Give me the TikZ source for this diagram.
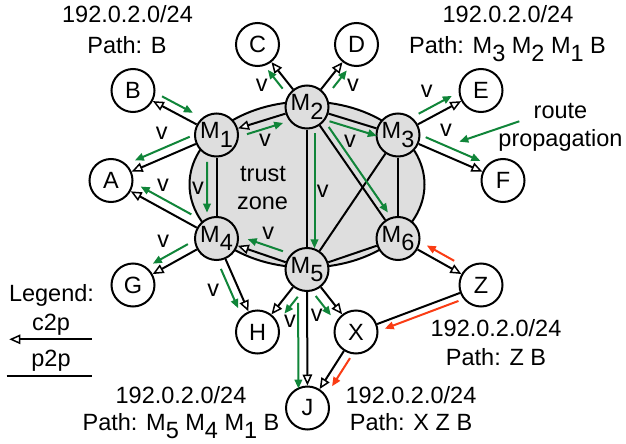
\documentclass[tikz,border=0pt]{standalone}
\usepackage{fontspec}
\setmainfont{Liberation Sans}
\usetikzlibrary{arrows.meta,calc}
\definecolor{propgreen}{RGB}{16,133,57}
\definecolor{propred}{RGB}{250,60,20}
\definecolor{zonegray}{RGB}{222,222,222}
\newcommand{\Msub}[1]{M\raisebox{-8.5pt}{#1}}
% style, from, to, start fraction, end fraction, perpendicular offset (pt, + = left of direction)
\newcommand{\propedge}[6]{\draw[#1] ($(#2)!#4!(#3)!#6pt!90:(#3)$) -- ($(#2)!#5!(#3)!#6pt!90:(#3)$);}
\tikzset{
  peer/.style={circle, draw, line width=2pt, minimum size=43pt, inner sep=0pt, fill=white},
  trustnode/.style={peer, fill=zonegray},
  c2p/.style={line width=2pt, -{Triangle[length=11pt,width=9.5pt,fill=white,line width=1.5pt]}},
  p2p/.style={line width=2pt},
  flowg/.style={line width=2pt, draw=propgreen, -{Triangle[length=9pt,width=7.5pt,fill=propgreen]}},
  flowr/.style={line width=2pt, draw=propred, -{Triangle[length=9pt,width=7.5pt,fill=propred]}},
  vlab/.style={inner sep=0pt},
  txt/.style={inner sep=0pt, anchor=base},
}
\begin{document}
\begin{tikzpicture}[x=1pt, y=-1pt, font=\fontsize{23.5}{28}\selectfont]
\useasboundingbox (0,0) rectangle (626,444);
% trust zone
\draw[line width=2pt, fill=zonegray] (307,184.5) ellipse [x radius=117.5pt, y radius=83pt];
% trust zone members
\node[trustnode] (M1) at (216.5,135) {\Msub{1}};
\node[trustnode] (M2) at (307,107) {\Msub{2}};
\node[trustnode] (M3) at (398,135) {\Msub{3}};
\node[trustnode] (M4) at (216.5,238.5) {\Msub{4}};
\node[trustnode] (M5) at (307,269.5) {\Msub{5}};
\node[trustnode] (M6) at (398,238.5) {\Msub{6}};
% other ASes
\node[peer] (C) at (257.5,44.5) {C};
\node[peer] (D) at (356.5,44.5) {D};
\node[peer] (B) at (133,90.5) {B};
\node[peer] (E) at (481,90.5) {E};
\node[peer] (A) at (111,180.5) {A};
\node[peer] (F) at (503,180.5) {F};
\node[peer] (G) at (133,285) {G};
\node[peer] (Z) at (481,285) {Z};
\node[peer] (H) at (257.5,332) {H};
\node[peer] (X) at (356,332) {X};
\node[peer] (J) at (307.5,408) {J};
% relationships
\draw[c2p] (M1) -- (B);
\draw[c2p] (M1) -- (A);
\draw[c2p] (M4) -- (A);
\draw[c2p] (M2) -- (C);
\draw[c2p] (M2) -- (D);
\draw[c2p] (M3) -- (E);
\draw[c2p] (M3) -- (F);
\draw[c2p] (M4) -- (G);
\draw[c2p] (M4) -- (H);
\draw[c2p] (M5) -- (H);
\draw[c2p] (M5) -- (J);
\draw[c2p] (M5) -- (X);
\draw[c2p] (M6) -- (Z);
\draw[c2p] (X) -- (J);
\draw[c2p] (M2) -- (M1);
\draw[c2p] (M5) -- (M4);
\draw[p2p] (M1) -- (M4);
\draw[p2p] (M2) -- (M3);
\draw[p2p] (M2) -- (M5);
\draw[p2p] (M2) -- (M6);
\draw[p2p] (M3) -- (M5);
\draw[p2p] (M3) -- (M6);
\draw[p2p] (M5) -- (M6);
\draw[p2p] (Z) -- (X);
% route propagation (verified)
\propedge{flowg}{B}{M1}{0.30}{0.67}{8.5}
\propedge{flowg}{M1}{A}{0.22}{0.74}{-9}
\propedge{flowg}{M4}{A}{0.28}{0.76}{-9}
\propedge{flowg}{M1}{M4}{0.26}{0.75}{-9.5}
\propedge{flowg}{M1}{M2}{0.31}{0.71}{-8.2}
\propedge{flowg}{M2}{C}{0.37}{0.67}{7.7}
\propedge{flowg}{M2}{D}{0.39}{0.67}{-8.5}
\propedge{flowg}{M2}{M3}{0.27}{0.79}{-7}
\propedge{flowg}{M2}{M6}{0.18}{0.83}{6.5}
\propedge{flowg}{M2}{M5}{0.16}{0.87}{7.5}
\propedge{flowg}{M5}{M4}{0.30}{0.69}{-9.5}
\propedge{flowg}{M4}{G}{0.29}{0.71}{-9}
\propedge{flowg}{M4}{H}{0.29}{0.71}{-8.2}
\propedge{flowg}{M5}{H}{0.34}{0.61}{9.7}
\propedge{flowg}{M5}{J}{0.24}{0.86}{-9}
\propedge{flowg}{M5}{X}{0.33}{0.64}{-9.5}
\propedge{flowg}{M3}{E}{0.30}{0.70}{9}
\propedge{flowg}{M3}{F}{0.23}{0.75}{9}
% hijacked route propagation
\propedge{flowr}{Z}{M6}{0.37}{0.70}{-8}
\propedge{flowr}{Z}{X}{0.20}{0.79}{7}
\propedge{flowr}{X}{J}{0.28}{0.65}{9}
% v labels
\node[vlab] (v1) at (161.7,133) {v};
\node[vlab] (v2) at (163,185) {v};
\node[vlab] (v3) at (198,188) {v};
\node[vlab] (v4) at (265,140) {v};
\node[vlab] (v5) at (261.7,85) {v};
\node[vlab] (v6) at (353,85) {v};
\node[vlab] (v7) at (350,141.7) {v};
\node[vlab] (v8) at (322.7,191.7) {v};
\node[vlab] (v9) at (268.3,233.3) {v};
\node[vlab] (v10) at (163.3,241.7) {v};
\node[vlab] (v11) at (213.3,290) {v};
\node[vlab] (v12) at (290,321.7) {v};
\node[vlab] (v13) at (316.7,315) {v};
\node[vlab] (v14) at (426.7,91.7) {v};
\node[vlab] (v15) at (446,130) {v};
% announcements
\node[txt] (tl1) at (127.5,23) {192.0.2.0/24};
\node[txt] (tl2) at (127,53) {Path: B};
\node[txt] (tr1) at (508,23) {192.0.2.0/24};
\node[txt] (tr2) at (507.5,53) {Path: \Msub{3} \Msub{2} \Msub{1} B};
\node[txt] (bl1) at (181,403) {192.0.2.0/24};
\node[txt] (bl2) at (181,430) {Path: \Msub{5} \Msub{4} \Msub{1} B};
\node[txt] (zl1) at (496,336.5) {192.0.2.0/24};
\node[txt] (zl2) at (496,365) {Path: Z B};
\node[txt] (jl1) at (411,403) {192.0.2.0/24};
\node[txt] (jl2) at (411,430) {Path: X Z B};
\node[txt] (tz1) at (263,181.5) {trust};
\node[txt] (tz2) at (262.5,209.5) {zone};
% route propagation note
\node[txt] (rp1) at (560.5,118) {route};
\node[txt] (rp2) at (560.5,146.5) {propagation};
\coordinate (rpA) at (519.3,121.3);
\coordinate (rpB) at (459.3,141.7);
\draw[flowg] (rpA) -- (rpB);
% legend
\node[txt] (lg1) at (51.5,301.5) {Legend:};
\node[txt] (lg2) at (51,330) {c2p};
\node[txt] (lg3) at (51,366.5) {p2p};
\coordinate (lgA) at (91.7,339.3);
\coordinate (lgB) at (9.3,339.3);
\draw[c2p] (lgA) -- (lgB);
\coordinate (lgC) at (6.7,375.7);
\coordinate (lgD) at (91.7,375.7);
\draw[p2p] (lgC) -- (lgD);
\end{tikzpicture}
\end{document}
